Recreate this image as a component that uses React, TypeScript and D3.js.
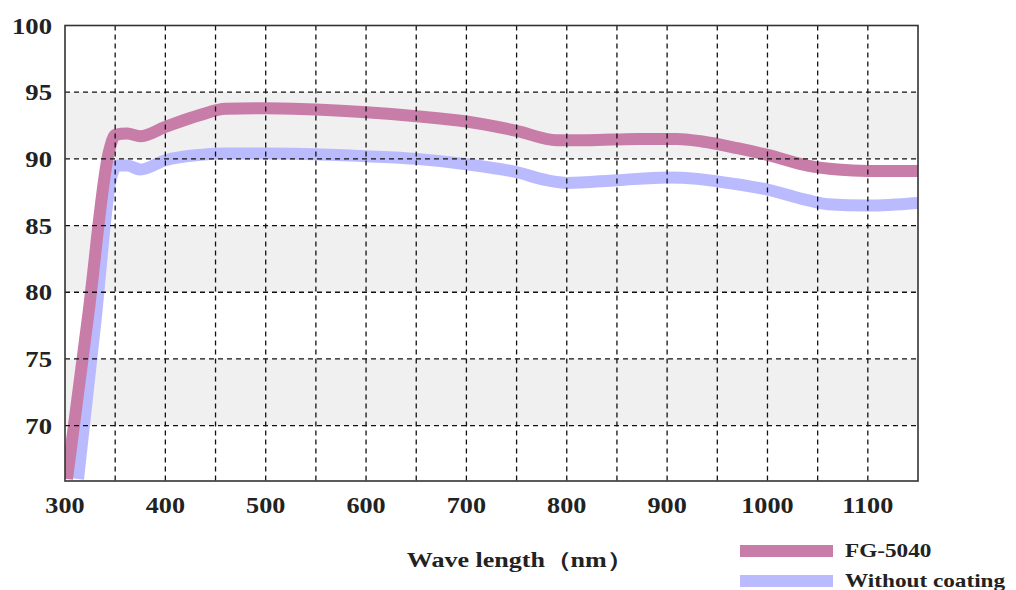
import React from "react";
import * as d3 from "d3";

const wavelengthsFG = [302, 323, 344, 350, 362, 375, 400, 435, 460, 500, 550, 600, 650, 700, 750, 790, 820, 870, 910, 935, 970, 1000, 1040, 1070, 1100, 1150];
const valuesFG = [66, 78.2, 90.6, 91.8, 91.9, 91.7, 92.4, 93.3, 93.75, 93.8, 93.7, 93.5, 93.2, 92.8, 92.1, 91.4, 91.4, 91.5, 91.5, 91.3, 90.8, 90.3, 89.5, 89.2, 89.1, 89.1];

const wavelengthsRaw = [313, 330, 346, 352, 362, 375, 400, 435, 460, 500, 550, 600, 650, 700, 750, 780, 800, 850, 900, 930, 960, 1000, 1040, 1060, 1100, 1150];
const valuesRaw = [66, 77.6, 88.6, 89.5, 89.5, 89.2, 89.9, 90.3, 90.4, 90.4, 90.35, 90.2, 90.0, 89.6, 89.0, 88.4, 88.2, 88.4, 88.6, 88.5, 88.2, 87.7, 86.9, 86.6, 86.5, 86.7];

const xTicks = [300, 400, 500, 600, 700, 800, 900, 1000, 1100];
const xGrid = [350, 400, 450, 500, 550, 600, 650, 700, 750, 800, 850, 900, 950, 1000, 1050, 1100];
const yTicks = [70, 75, 80, 85, 90, 95, 100];
const yGrid = [70, 75, 80, 85, 90, 95];
const bands = [[70, 75], [80, 85], [90, 95]];

const seriesNames = ["FG-5040", "Without coating"];
const colors = ["#c87ca8", "#babaff"];

const W = 1016, H = 590;
const L = 65, R = 918, T = 25.5, B = 481;

export default function App() {
  const x = d3.scaleLinear().domain([300, 1150]).range([L, R]);
  const y = d3.scaleLinear().domain([65.85, 100]).range([B, T]);
  const line = d3.line<[number, number]>().x(d => x(d[0])).y(d => y(d[1])).curve(d3.curveMonotoneX);
  const fg = line(wavelengthsFG.map((w, i) => [w, valuesFG[i]]) as [number, number][]) || "";
  const raw = line(wavelengthsRaw.map((w, i) => [w, valuesRaw[i]]) as [number, number][]) || "";
  const font = "'Liberation Serif', 'DejaVu Serif', serif";
  const tp = { fontFamily: font, fontWeight: "bold" as const, fill: "#222" };
  return (
    <svg width={W} height={H} style={{ position: "absolute", left: 0, top: 0, background: "#fff" }}>
      <defs>
        <clipPath id="plot">
          <rect x={L} y={T} width={R - L} height={B - T} />
        </clipPath>
      </defs>
      {bands.map(([a, b]) => (
        <rect key={a} x={L} y={y(b)} width={R - L} height={y(a) - y(b)} fill="#f0f0f0" />
      ))}
      <g clipPath="url(#plot)">
        <path d={raw} fill="none" stroke={colors[1]} strokeWidth={12} strokeLinejoin="round" />
        <path d={fg} fill="none" stroke={colors[0]} strokeWidth={12} strokeLinejoin="round" />
      </g>
      {xGrid.map(v => (
        <line key={"x" + v} x1={x(v)} x2={x(v)} y1={T} y2={B} stroke="#111" strokeWidth={1.3} strokeDasharray="5,4" />
      ))}
      {yGrid.map(v => (
        <line key={"y" + v} x1={L} x2={R} y1={y(v)} y2={y(v)} stroke="#111" strokeWidth={1.3} strokeDasharray="5,4" />
      ))}
      <rect x={L} y={T} width={R - L} height={B - T} fill="none" stroke="#333" strokeWidth={1.6} />
      {yTicks.map(v => (
        <text key={"yt" + v} transform={`translate(52,${y(v)}) scale(1.16,1)`} dy="0.35em" textAnchor="end" fontSize={23} {...tp}>{v}</text>
      ))}
      {xTicks.map(v => (
        <text key={"xt" + v} transform={`translate(${x(v)},513) scale(1.14,1)`} textAnchor="middle" fontSize={23} {...tp}>{v}</text>
      ))}
      <text transform="translate(519.5,567) scale(1.27,1)" textAnchor="middle" fontSize={20.5} {...tp}>Wave length（nm）</text>
      {seriesNames.map((n, i) => (
        <g key={n}>
          <rect x={740} y={545 + i * 30} width={93} height={12} fill={colors[i]} />
          <text transform={`translate(845,${557 + i * 30}) scale(1.29,1)`} fontSize={18} {...tp}>{n}</text>
        </g>
      ))}
    </svg>
  );
}
